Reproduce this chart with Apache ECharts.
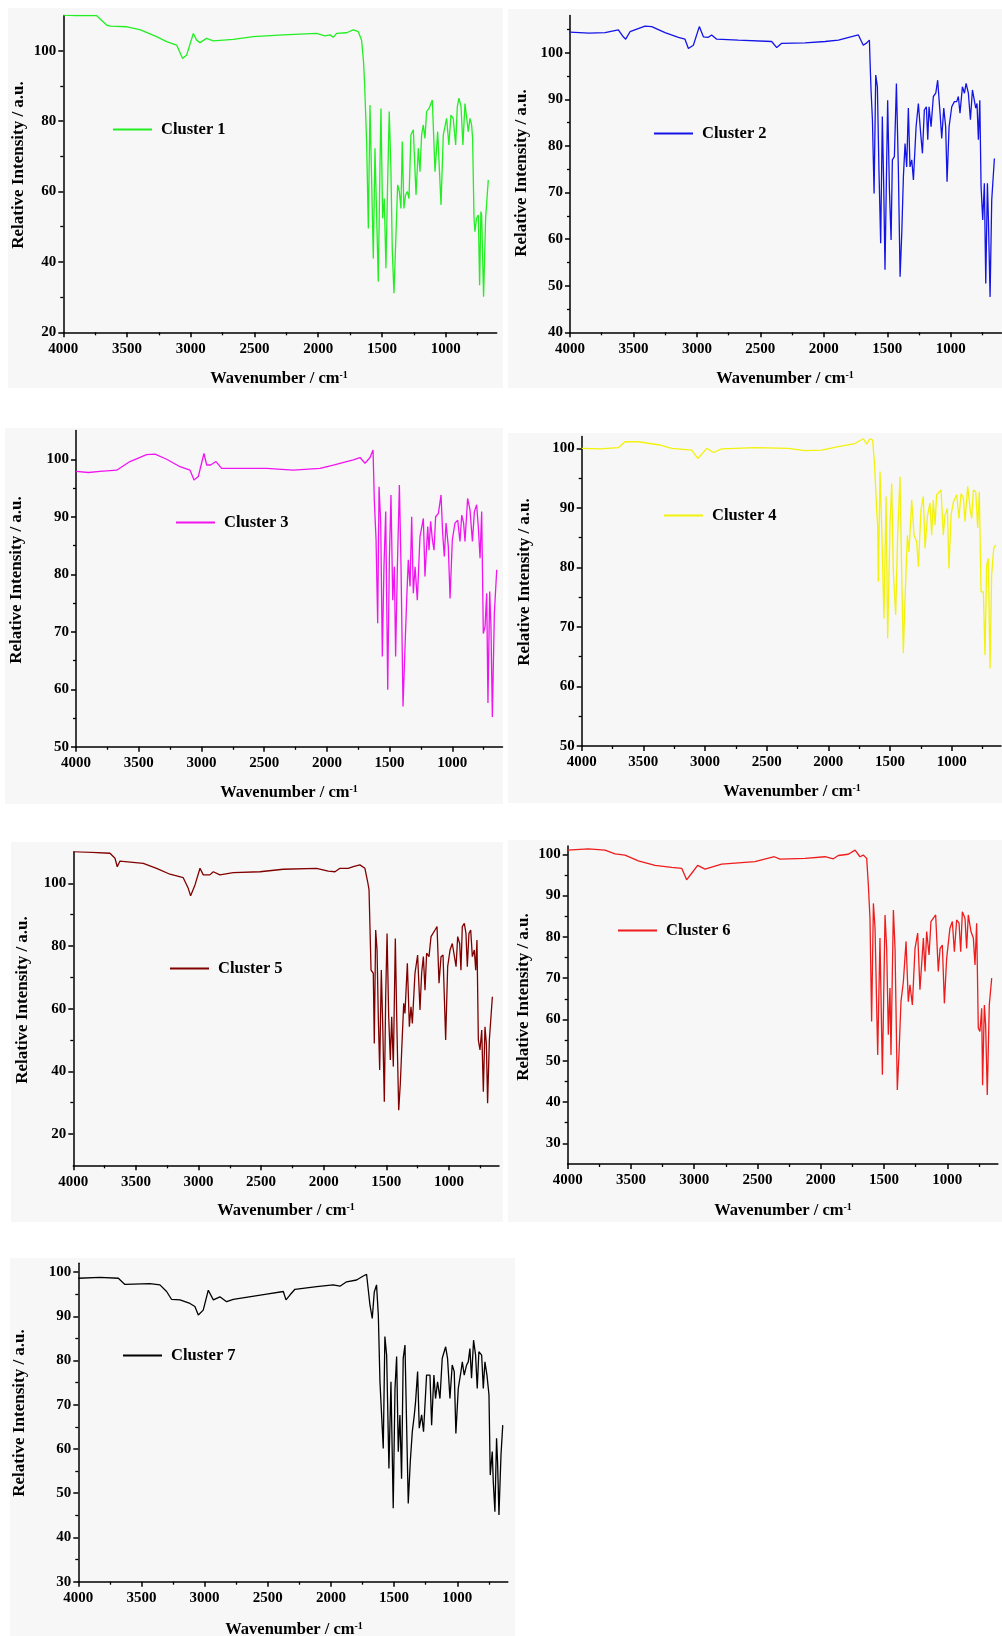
<!DOCTYPE html>
<html><head><meta charset="utf-8">
<script src="https://cdn.jsdelivr.net/npm/echarts@6/dist/echarts.min.js"></script>
<style>html,body{margin:0;padding:0;background:#fff}#c{width:1002px;height:1636px}</style>
</head><body><div id="c"></div><script>
// ---------- DATA ----------
const xLabelTicks = [1000,1500,2000,2500,3000,3500,4000];
const xMinorTicks = [750,1250,1750,2250,2750,3250,3750];
const seriesNames = ['Cluster 1','Cluster 2','Cluster 3','Cluster 4','Cluster 5','Cluster 6','Cluster 7'];

const c1Wn = [4000,3900,3740,3660,3630,3500,3400,3268,3189,3111,3064,3032,2980,2954,2928,2876,2823,2666,2509,2274,2013,1947,1908,1882,1856,1777,1725,1686,1660,1645,1636,1628,1620,1607,1594,1581,1568,1555,1542,1529,1516,1508,1495,1482,1469,1456,1443,1430,1419,1406,1393,1377,1364,1351,1341,1328,1315,1301,1288,1273,1254,1233,1215,1202,1189,1176,1163,1150,1131,1105,1084,1063,1053,1037,1019,993,975,959,941,922,909,896,880,865,849,836,823,810,797,789,778,771,758,744,734,724,718,703,687,666];
const c1Val = [110.1,110,110,107.3,107,106.8,106,104,102.6,101.6,97.8,98.8,104.9,103,102.3,103.5,102.8,103.2,104,104.5,104.9,104.2,104.5,103.8,104.9,105.1,105.9,105.4,103,97,90.3,82,73.2,49.5,84.6,62.8,41,72.3,72.3,34.4,66.6,83.6,52.4,58,38.2,61.9,82.7,66.6,43,31.1,44.8,61.9,60,55.2,74.2,55.2,59,60,58,76.1,77.5,59,72.3,65.6,76.1,78.9,75.1,82.7,83.6,86,65.6,77,77,56.2,76.1,80.8,73.2,81.7,80.8,73.2,84.1,86.5,84.1,73.2,85,84.6,77,80.8,78.9,75.1,52.4,48.6,52.4,53.3,33.4,54.3,53.3,30.1,52.4,63.3];

const c2Wn = [4000,3850,3724,3619,3580,3561,3527,3409,3356,3251,3146,3094,3067,3028,2981,2949,2910,2884,2844,2674,2411,2371,2332,2148,1990,1885,1728,1689,1662,1641,1636,1628,1617,1604,1591,1578,1565,1552,1539,1528,1518,1504,1497,1483,1470,1460,1444,1428,1413,1399,1386,1373,1360,1347,1334,1321,1307,1294,1273,1255,1237,1223,1208,1192,1181,1171,1155,1137,1118,1103,1084,1071,1055,1040,1029,1013,992,971,953,940,927,908,892,879,861,845,829,814,803,793,782,771,761,748,735,724,711,703,690,677,656];
const c2Val = [104.4,104.2,104.3,104.9,103.4,102.9,104.5,105.7,105.6,104.3,103.3,102.9,100.9,101.6,105.6,103.4,103.3,103.8,102.9,102.7,102.4,101.1,102,102.1,102.4,102.7,103.8,101.6,102.1,102.7,98.4,92,85.6,69.8,95.2,92.7,74.1,59.1,86.3,71.3,53.4,77.7,89.8,70.5,59.8,77,77.7,93.4,75.5,51.9,61.2,73.4,80.5,75.5,88.1,75.5,77,72.7,84.1,89.1,82.7,78.4,87.7,88.4,81.3,88.4,84.1,90.6,91.3,94.1,87,81.6,88.1,84.1,72.3,84.1,88.4,89.5,89.5,90.6,87,92.7,91.3,93.4,91.3,85.6,92,92.4,88.1,89.1,81.3,89.8,71.3,64.1,72,50.5,72,64.1,47.6,68.4,77.3];

const c3Wn = [4000,3900,3809,3676,3570,3437,3370,3277,3171,3091,3059,3025,2980,2958,2927,2884,2839,2480,2268,2055,1949,1789,1736,1696,1656,1632,1622,1608,1595,1584,1571,1558,1545,1531,1515,1502,1489,1475,1462,1452,1438,1422,1409,1393,1377,1364,1351,1337,1324,1311,1297,1279,1258,1231,1218,1196,1186,1173,1159,1146,1133,1111,1090,1077,1064,1050,1032,1018,1000,979,957,939,925,910,899,878,859,840,824,806,793,779,766,753,739,726,716,702,692,681,665,646];
const c3Val = [97.9,97.7,97.9,98.1,99.6,100.8,100.9,100,98.7,98.1,96.4,97,101,99,99,99.6,98.4,98.4,98.1,98.4,99,99.9,100.3,99.3,100.3,101.6,92.9,86,71.5,95.2,88.9,65.7,81.3,90.9,59.9,82.5,93.8,75.5,81.3,65.7,81.3,95.5,81.3,57,67.4,75.5,82.5,77.9,90,76.7,81.3,75.5,86.5,89.7,79.6,88.3,84.2,89.2,86,84.2,90,90.6,93.8,87.1,83.1,88.9,84.8,75.8,86,88.9,89.4,85.7,90.3,88.9,85.7,93.2,91.2,85.7,90.9,92.1,88.3,82.8,90.9,69.7,70.9,76.7,57.6,77,70.9,55.2,73.2,80.8];

const c4Wn = [4000,3850,3703,3649,3541,3378,3270,3108,3059,3027,2986,2932,2865,2595,2324,2189,2054,1919,1784,1716,1689,1662,1641,1627,1616,1608,1600,1595,1581,1568,1549,1532,1519,1500,1486,1473,1454,1438,1419,1405,1392,1378,1359,1346,1324,1305,1284,1270,1249,1230,1216,1195,1176,1162,1149,1135,1122,1086,1068,1054,1035,1022,1005,986,959,941,924,905,892,870,851,838,824,805,789,776,762,743,730,716,703,689,676,659,643];
const c4Val = [100,99.9,100.1,101.1,101.1,100.6,100,99.7,98.3,99,100,99.3,99.9,100.1,100,99.6,99.7,100.3,100.8,101.6,100.7,101.6,101.4,97.8,93.3,89.4,87.1,77.6,96.1,87.1,71.4,91.9,68.1,87.1,94.1,79.3,72,85.4,95.2,78.7,65.6,74.8,85.4,82.6,91.3,85.4,84.3,80.1,89.6,91.9,83.2,88.8,90.8,85.4,91.3,87.1,92.2,93,85.4,88.8,89.9,79.8,88.8,91,92.2,88.2,92.4,91.6,87.7,93.6,89.9,88.2,93,92.7,86.6,92.7,75.9,75.9,65.3,80.4,81.5,63,78.7,83.2,83.8];

const c5Wn = [4000,3850,3707,3667,3649,3627,3441,3335,3228,3122,3082,3063,3028,2988,2962,2909,2882,2829,2722,2509,2323,2057,1964,1910,1870,1804,1764,1711,1671,1649,1638,1630,1622,1604,1596,1585,1574,1564,1553,1540,1529,1516,1505,1494,1481,1468,1457,1444,1428,1415,1401,1388,1377,1361,1351,1332,1316,1303,1292,1271,1250,1231,1218,1204,1191,1178,1159,1143,1111,1095,1079,1063,1047,1026,1010,991,973,959,943,930,914,904,893,877,864,853,840,826,813,797,786,776,765,752,738,725,712,701,691,677,653];
const c5Val = [110.1,109.9,109.6,108,105.3,107.1,106.4,104.8,102.9,101.8,98.4,96,99.5,104.8,102.7,102.7,103.7,102.7,103.4,103.7,104.5,104.8,103.9,103.7,104.8,104.8,105.3,105.9,104.8,100.5,97.9,85.1,72.3,71.3,48.9,85.1,78.7,57.4,40.4,72.3,55.3,30.3,63.8,84,57.4,43.6,57.4,41.5,82.4,53.2,27.6,36.2,46.8,61.7,58.5,74.5,54.2,60.6,55.3,71.3,77.1,59.6,71.3,76.6,65.9,77.7,76.6,83,85.1,86.2,68.1,76.6,77.1,50,73.4,78.7,80.8,80.8,73.4,83,80.8,72.3,86.2,87.2,84,73.4,84,85.1,76.6,78.7,72.3,81.9,50,46.8,53.2,33.5,54.2,48.9,29.8,50,63.8];

const c6Wn = [4000,3837,3705,3626,3547,3442,3310,3178,3099,3060,3020,2973,2915,2783,2520,2367,2322,2124,1966,1901,1861,1782,1729,1690,1664,1637,1624,1611,1598,1584,1571,1550,1532,1513,1492,1479,1466,1453,1445,1426,1413,1395,1382,1366,1347,1326,1308,1295,1276,1255,1234,1216,1189,1176,1163,1144,1129,1092,1071,1057,1039,1023,1005,979,960,944,926,907,894,881,860,847,834,813,794,781,768,755,742,728,721,707,697,684,668,649];
const c6Val = [101,101.3,101,100.1,99.8,98.4,97.3,96.8,96.6,93.8,95.4,97.3,96.4,97.6,98.2,99.4,98.8,99,99.4,98.9,99.7,100,101,99.4,99.8,99,92.6,84.5,59.5,88.1,82.1,51.4,79.7,46.6,85.3,77.2,56.3,67.6,51.4,86.5,77.2,42.9,51.4,64.3,69.2,78.9,64.3,68.4,63.5,77.2,80.9,67.2,79.7,71.6,81.3,75.6,83.7,85.3,71.6,77.2,78,63.9,74.8,82.1,83.7,76.4,84.1,83.3,76.4,86.1,84.5,77.2,85.3,81.3,79.7,73.2,83.3,57.9,57.1,62.7,44.1,63.5,58.7,41.7,63.5,70];

const c7Wn = [4000,3828,3683,3631,3433,3354,3301,3261,3195,3116,3077,3050,3011,2971,2931,2879,2826,2773,2509,2377,2356,2325,2285,2113,1982,1929,1876,1797,1744,1718,1705,1691,1673,1657,1639,1625,1612,1599,1586,1573,1559,1541,1525,1507,1493,1480,1467,1454,1441,1428,1414,1401,1388,1372,1356,1340,1330,1314,1301,1282,1267,1243,1216,1203,1185,1172,1156,1137,1119,1092,1077,1058,1040,1024,1011,992,971,960,945,926,913,900,887,871,855,842,829,807,794,781,765,749,739,723,715,702,689,681,670,654,640];
const c7Val = [98.6,98.8,98.6,97.2,97.4,97.1,95.6,93.8,93.7,92.9,92.2,90.3,91.4,95.9,93.7,94.4,93.3,93.8,95,95.6,93.7,94.8,96.1,96.7,97.1,96.8,97.8,98.2,99.1,99.5,99.3,92.5,89.5,95.5,97.1,90.3,75.2,75.2,60.1,85.4,81.2,55.6,75.2,46.6,73.7,80.9,59.4,67.7,53.3,80.5,83.5,65.4,47.7,57.1,63.9,67.7,70.7,77.5,64.7,67.7,63.9,76.7,76.7,65.4,76.7,71.4,75.2,71.4,80.5,83.1,80.5,71.4,79,77.5,63.5,73.7,77.5,79.7,76.7,79,79.7,82.7,76,84.6,81.2,73.7,82,81.2,73.7,79.7,76.7,72.2,54.1,59.4,52.6,45.8,62.4,57.1,45.1,58.6,65.4];

const y1Major = [20,40,60,80,100], y1Minor = [30,50,70,90];
const y2Major = [40,50,60,70,80,90,100], y2Minor = [45,55,65,75,85,95,105];
const y3Major = [50,60,70,80,90,100], y3Minor = [55,65,75,85,95];
const y4Major = [50,60,70,80,90,100], y4Minor = [55,65,75,85,95];
const y5Major = [20,40,60,80,100], y5Minor = [30,50,70,90];
const y6Major = [30,40,50,60,70,80,90,100], y6Minor = [35,45,55,65,75,85,95];
const y7Major = [30,40,50,60,70,80,90,100], y7Minor = [35,45,55,65,75,85,95];

const wnSets = [c1Wn,c2Wn,c3Wn,c4Wn,c5Wn,c6Wn,c7Wn];
const valSets = [c1Val,c2Val,c3Val,c4Val,c5Val,c6Val,c7Val];
const yMajors = [y1Major,y2Major,y3Major,y4Major,y5Major,y6Major,y7Major];
const yMinors = [y1Minor,y2Minor,y3Minor,y4Minor,y5Minor,y6Minor,y7Minor];

// ---------- LAYOUT / STYLE ----------
const FONT = '"Liberation Serif","Times New Roman",serif';
const layout = [
  {g:[63.3,15.5,433.4,316.8], y:[20,110], color:'#22ee22', lg:[113,130], xt:[279,379], yt:[19,165], bg:[8,8,495,380]},
  {g:[570,15.4,431.5,316.9], y:[40,108], color:'#1414e6', lg:[654,134], xt:[785,379], yt:[521.7,173], bg:[508,9,494,379]},
  {g:[76,430.5,426.5,316.3], y:[50,105], color:'#f014f0', lg:[176,523], xt:[289,793], yt:[17,580], bg:[5,428,498,376]},
  {g:[581.7,436.4,419.3,309.6], y:[50,102], color:'#f2f20c', lg:[664,516], xt:[792,792], yt:[524.3,582], bg:[508,433,494,370]},
  {g:[73.3,852,425.7,313.3], y:[10,110], color:'#800000', lg:[170,969], xt:[286,1211], yt:[22.7,1000], bg:[11,842,492,380]},
  {g:[567.7,846,430.2,318], y:[25,102], color:'#ee1c1c', lg:[618,931], xt:[783,1211], yt:[523.3,997], bg:[508,840,494,382]},
  {g:[78.3,1263.2,429.5,318.5], y:[30,102], color:'#000000', lg:[123,1356], xt:[294,1630], yt:[20,1413], bg:[10,1258,505,378]}
];

const plainNum = v => String(v);
const grids=[], xAxes=[], yAxes=[], series=[], legends=[], graphics=[];
layout.forEach((L,i)=>{
  grids.push({left:L.g[0], top:L.g[1], width:L.g[2], height:L.g[3], containLabel:false, outerBoundsMode:'none'});
  const lab = {fontFamily:FONT, fontWeight:'bold', fontSize:15, color:'#000', formatter:plainNum};
  xAxes.push({type:'value', gridIndex:i, position:'bottom', min:600, max:4000, inverse:true,
    axisLine:{show:true, onZero:false, lineStyle:{color:'#000', width:1.5}},
    axisTick:{show:true, length:5, lineStyle:{color:'#000', width:1.5}, customValues:xLabelTicks},
    axisLabel:Object.assign({customValues:xLabelTicks, margin:9}, lab),
    splitLine:{show:false}});
  xAxes.push({type:'value', gridIndex:i, position:'bottom', min:600, max:4000, inverse:true,
    axisLine:{show:false, onZero:false},
    axisTick:{show:true, length:3, lineStyle:{color:'#000', width:1.3}, customValues:xMinorTicks},
    axisLabel:{show:false}, splitLine:{show:false}});
  yAxes.push({type:'value', gridIndex:i, position:'left', min:L.y[0], max:L.y[1],
    axisLine:{show:true, onZero:false, lineStyle:{color:'#000', width:1.5}},
    axisTick:{show:true, length:5, lineStyle:{color:'#000', width:1.5}, customValues:yMajors[i]},
    axisLabel:Object.assign({customValues:yMajors[i], margin:7}, lab),
    splitLine:{show:false}});
  yAxes.push({type:'value', gridIndex:i, position:'left', min:L.y[0], max:L.y[1],
    axisLine:{show:false, onZero:false},
    axisTick:{show:true, length:3, lineStyle:{color:'#000', width:1.3}, customValues:yMinors[i]},
    axisLabel:{show:false}, splitLine:{show:false}});
  series.push({type:'line', name:seriesNames[i], xAxisIndex:2*i, yAxisIndex:2*i,
    data:wnSets[i].map((w,j)=>[w,valSets[i][j]]),
    symbol:'none', showSymbol:false, color:L.color,
    lineStyle:{color:L.color, width:1.3}, itemStyle:{color:L.color},
    animation:false, silent:true, z:3});
  legends.push({data:[{name:seriesNames[i], icon:'rect'}], left:L.lg[0], top:L.lg[1]-9, padding:0,
    itemWidth:39, itemHeight:2, selectedMode:false,
    itemStyle:{color:L.color, borderWidth:0},
    textStyle:{fontFamily:FONT, fontWeight:'bold', fontSize:16.5, color:'#000', padding:[0,0,0,4]}});
  graphics.push({type:'rect', z:-10, silent:true, shape:{x:L.bg[0], y:L.bg[1], width:L.bg[2], height:L.bg[3]}, style:{fill:'#f7f7f7'}});
  graphics.push({type:'text', x:L.xt[0], y:L.xt[1], silent:true,
    style:{text:'Wavenumber / cm{s|-1}', fontFamily:FONT, fontWeight:'bold', fontSize:16.5, lineHeight:18,
      fill:'#000', align:'center', verticalAlign:'middle',
      rich:{s:{fontFamily:FONT, fontWeight:'bold', fontSize:10, lineHeight:10, verticalAlign:'top', fill:'#000'}}}});
  graphics.push({type:'text', x:L.yt[0], y:L.yt[1], rotation:Math.PI/2, silent:true,
    style:{text:'Relative Intensity / a.u.', fontFamily:FONT, fontWeight:'bold', fontSize:17,
      fill:'#000', align:'center', verticalAlign:'middle'}});
});

const chart = echarts.init(document.getElementById('c'), null, {renderer:'canvas'});
chart.setOption({
  backgroundColor:'#ffffff', animation:false,
  grid:grids, xAxis:xAxes, yAxis:yAxes, series:series, legend:legends, graphic:graphics
});
</script></body></html>
